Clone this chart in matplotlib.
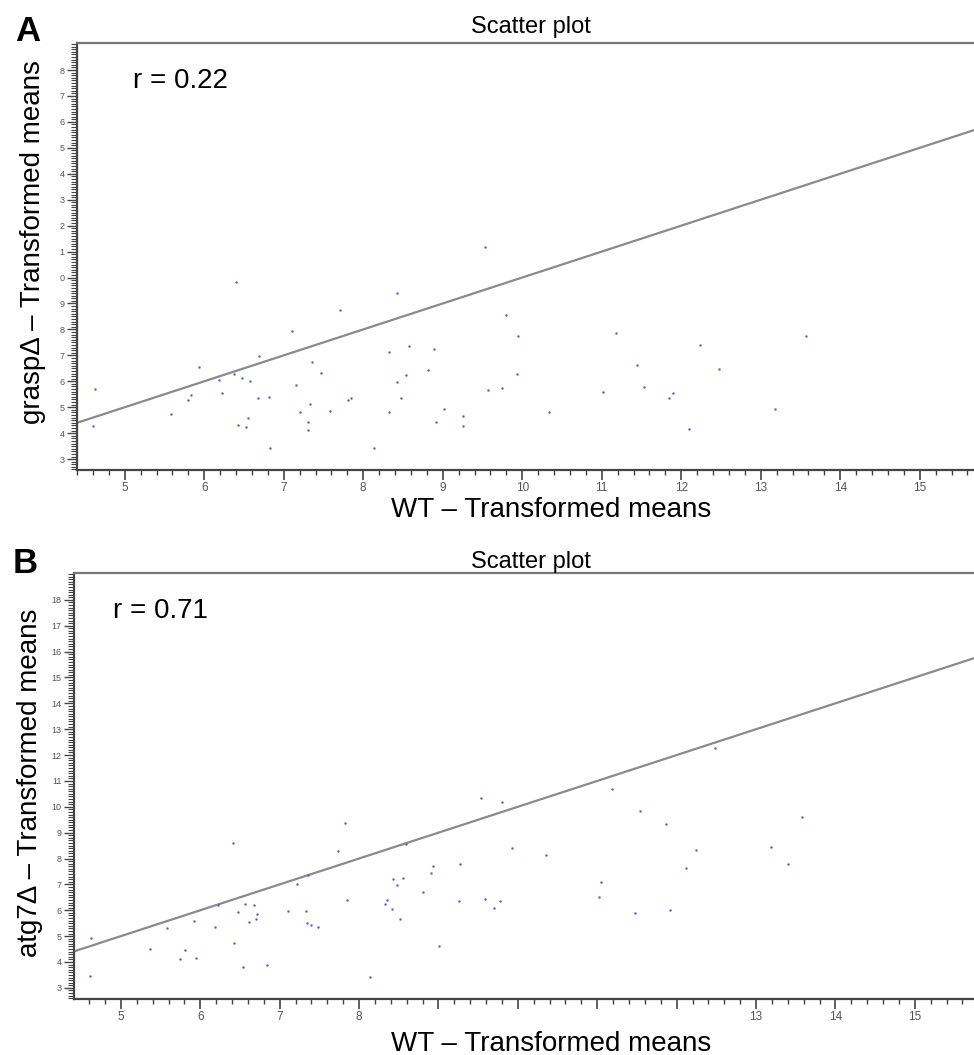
import matplotlib
matplotlib.use("Agg")
import matplotlib.pyplot as plt
from matplotlib.ticker import MultipleLocator, FixedLocator

plt.rcParams['font.family'] = ['Liberation Sans', 'DejaVu Sans']

# panel A: WT vs graspΔ
wt_a = [6.40, 4.62, 4.60, 5.58, 5.80, 5.83, 5.94, 6.18, 6.22, 6.38, 6.48, 6.57,
        6.42, 6.53, 6.55, 6.69, 6.67, 6.81, 6.83, 7.10, 7.16, 7.36, 7.47, 7.21,
        7.33, 7.31, 7.31, 7.58, 7.71, 8.42, 9.79, 9.95, 11.18, 13.57, 12.23, 8.32,
        8.58, 8.89, 8.81, 8.54, 8.42, 9.93, 11.45, 12.47, 9.57, 9.75, 11.53, 11.01,
        11.85, 11.90, 7.81, 7.84, 8.47, 8.33, 9.01, 9.26, 8.92, 9.25, 10.34, 13.18,
        12.10, 8.13, 9.53]
grasp = [9.84, 5.70, 4.28, 4.75, 5.26, 5.49, 6.56, 6.06, 5.53, 6.27, 6.11, 6.03,
         4.31, 4.25, 4.57, 6.98, 5.34, 5.40, 3.41, 7.92, 5.85, 6.74, 6.32, 4.80,
         5.11, 4.42, 4.12, 4.86, 8.75, 9.39, 8.57, 7.73, 7.87, 7.74, 7.40, 7.14,
         7.36, 7.23, 6.42, 6.25, 5.96, 6.28, 6.63, 6.46, 5.65, 5.73, 5.79, 5.57,
         5.36, 5.55, 5.29, 5.36, 5.35, 4.80, 4.93, 4.66, 4.44, 4.28, 4.81, 4.93,
         4.16, 3.42, 11.19]

# panel B: WT vs atg7Δ
wt_b = [6.41, 4.63, 4.61, 5.37, 5.58, 5.75, 5.81, 5.92, 5.95, 6.19, 6.22, 6.43,
        6.48, 6.56, 6.54, 6.62, 6.68, 6.71, 6.70, 6.84, 7.10, 7.22, 7.36, 7.33,
        7.35, 7.40, 7.48, 7.82, 7.73, 8.59, 7.85, 8.14, 8.43, 8.55, 8.48, 8.93,
        8.90, 8.81, 8.33, 8.35, 8.42, 8.52, 9.01, 9.27, 9.26, 9.58, 9.77, 9.70,
        9.54, 9.80, 9.93, 10.35, 11.19, 11.54, 11.86, 13.58, 12.24, 13.19, 12.12,
        13.40, 11.05, 11.02, 11.47, 11.91, 12.48]
atg7 = [8.59, 4.94, 3.46, 4.52, 5.32, 4.11, 4.46, 5.58, 4.15, 5.35, 6.21, 4.75,
        5.94, 6.26, 3.81, 5.55, 6.22, 5.86, 5.67, 3.90, 5.96, 7.03, 7.38, 5.98,
        5.49, 5.42, 5.35, 9.38, 8.30, 8.55, 6.39, 3.41, 7.20, 7.26, 6.99, 7.70,
        7.43, 6.72, 6.25, 6.41, 6.05, 5.66, 4.62, 7.79, 6.36, 6.44, 6.37, 6.07,
        10.33, 10.18, 8.41, 8.13, 10.69, 9.82, 9.34, 9.62, 8.32, 8.46, 7.65,
        7.78, 7.11, 6.53, 5.91, 6.00, 12.29]

x_ticks = [5, 6, 7, 8, 9, 10, 11, 12, 13, 14, 15]
y_ticks = list(range(3, 19))
# the left edge of the original figure cut off the leading digits
y_labels_a = [str(v % 10) for v in y_ticks]
y_labels_b = [str(v) for v in y_ticks]
x_labels_a = [str(v) for v in x_ticks]
x_labels_b = ['5', '6', '7', '8', '', '', '', '', '13', '14', '15']

fig = plt.figure(figsize=(9.74, 10.55), dpi=100)

axA = fig.add_axes([0.0791, 0.5545, 0.9427, 0.4047])
axB = fig.add_axes([0.0760, 0.0531, 0.9407, 0.4038])


def style(ax, xs, ys, xlim, ylim, xlab, ylab):
    ax.scatter(xs, ys, s=3, color='#5555ff', linewidths=0, zorder=3)
    ax.axline((5, 5), slope=1, color='#8a8a8a', lw=1.6, zorder=2)
    ax.set_xlim(*xlim)
    ax.set_ylim(*ylim)
    ax.spines['right'].set_visible(False)
    ax.spines['top'].set_color('#777777')
    ax.spines['top'].set_linewidth(1.6)
    for s in ('left', 'bottom'):
        ax.spines[s].set_color('#444444')
        ax.spines[s].set_linewidth(1.6)
    ax.xaxis.set_major_locator(FixedLocator(x_ticks))
    ax.xaxis.set_minor_locator(MultipleLocator(0.2))
    ax.yaxis.set_major_locator(FixedLocator(y_ticks))
    ax.yaxis.set_minor_locator(MultipleLocator(0.1))
    ax.set_xticklabels(xlab)
    ax.set_yticklabels(ylab)
    ax.tick_params(axis='x', which='major', direction='out', length=7, width=1.2,
                   color='#444444', labelsize=8.5, labelcolor='#555555', pad=1.5)
    ax.tick_params(axis='x', which='minor', direction='out', length=3.5, width=1.0,
                   color='#444444')
    ax.tick_params(axis='y', which='major', direction='out', length=7, width=1.0,
                   color='#444444', labelsize=6.5, labelcolor='#555555', pad=2)
    ax.tick_params(axis='y', which='minor', direction='out', length=4, width=0.8,
                   color='#444444')
    ax.tick_params(top=False, right=False)


style(axA, wt_a, grasp, (4.40, 15.95), (2.58, 19.04), x_labels_a, y_labels_a)
style(axB, wt_b, atg7, (4.41, 15.95), (2.57, 19.04), x_labels_b, y_labels_b)

# titles and labels
fig.text(0.545, 0.9687, 'Scatter plot', fontsize=17, ha='center', va='baseline')
fig.text(0.545, 0.4616, 'Scatter plot', fontsize=17, ha='center', va='baseline')

fig.text(0.0154, 0.9611, 'A', fontsize=25, fontweight='bold', va='baseline')
fig.text(0.0134, 0.4569, 'B', fontsize=25, fontweight='bold', va='baseline')

fig.text(0.1366, 0.9166, 'r = 0.22', fontsize=20, va='baseline')
fig.text(0.1160, 0.4142, 'r = 0.71', fontsize=20, va='baseline')

fig.text(0.566, 0.5100, 'WT – Transformed means', fontsize=20, ha='center', va='baseline')
fig.text(0.566, 0.0038, 'WT – Transformed means', fontsize=20, ha='center', va='baseline')

fig.text(0.034, 0.7706, 'graspΔ – Transformed means', fontsize=20, rotation=90,
         ha='center', va='center')
fig.text(0.031, 0.2578, 'atg7Δ – Transformed means', fontsize=20, rotation=90,
         ha='center', va='center')

fig.savefig('out.png', dpi=100)
